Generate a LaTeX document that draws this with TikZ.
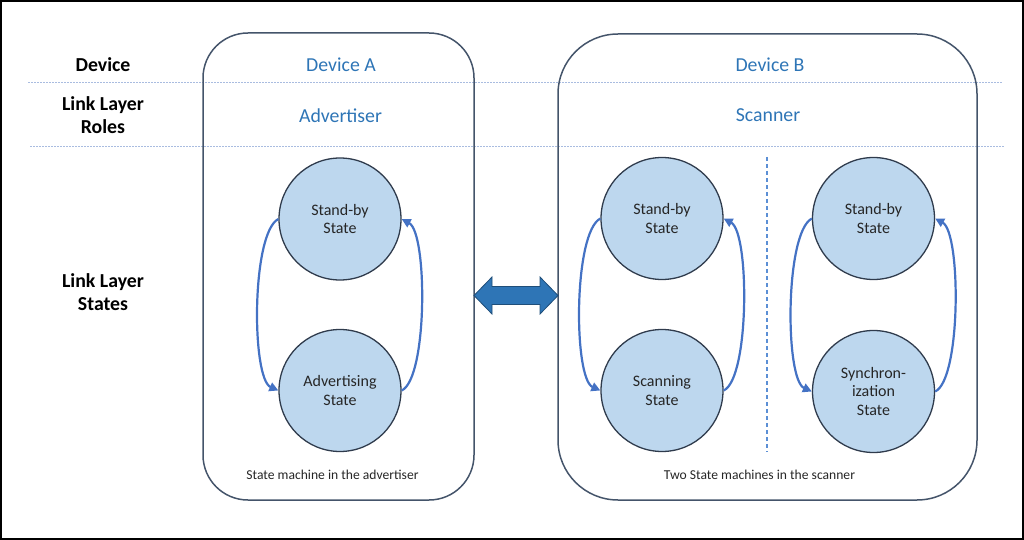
\documentclass[tikz,border=0pt]{standalone}
\usepackage{fontspec}
\setmainfont{Carlito}
\usetikzlibrary{arrows.meta}
\definecolor{boxline}{HTML}{44546A}
\definecolor{circfill}{HTML}{BDD7EE}
\definecolor{circline}{HTML}{2F3B4C}
\definecolor{arrowblue}{HTML}{4472C4}
\definecolor{dashblue}{HTML}{5B8FD5}
\definecolor{textblue}{HTML}{2E75B6}
\definecolor{dotline}{HTML}{A9BCE0}
\definecolor{bigarrow}{HTML}{2E75B6}
\definecolor{bigarrowline}{HTML}{1F4E79}
\tikzset{
  statecirc/.style={circle, draw=circline, line width=1.3pt, fill=circfill, minimum size=122pt, inner sep=0pt, align=center, font=\fontsize{16}{18.5}\selectfont, text=black!85},
  rowlabel/.style={align=center, font=\fontsize{19.8}{23}\selectfont\bfseries},
  bluelabel/.style={text=textblue, font=\fontsize{19.8}{23}\selectfont},
  caption/.style={font=\fontsize{13.6}{15}\selectfont, text=black!85},
  transition/.style={draw=arrowblue, line width=2.2pt, -{Triangle[length=9pt,width=9pt]}},
  rowsep/.style={draw=dotline, line width=0.9pt, dash pattern=on 1.5pt off 1.5pt},
  devframe/.style={draw=boxline, line width=1.5pt},
}
\begin{document}
\begin{tikzpicture}[x=1pt,y=-1pt]
\useasboundingbox (0,0) rectangle (1024,540);
\draw[black, line width=2pt] (1,1) rectangle (1023,539);
% row separators
\coordinate (r1a) at (28,82); \coordinate (r1b) at (1002,82);
\coordinate (r2a) at (30,146.5); \coordinate (r2b) at (1004,146.5);
\draw[rowsep] (r1a) -- (r1b);
\draw[rowsep] (r2a) -- (r2b);
% device boxes
\draw[devframe, rounded corners=45pt] (203,33) rectangle (474,500);
\draw[devframe, rounded corners=60pt] (558,34) rectangle (977,500);
% row labels
\node[rowlabel] (lDev) at (103,65) {Device};
\node[rowlabel] (lRoles) at (103,115.5) {Link Layer\\Roles};
\node[rowlabel] (lStates) at (103,292.5) {Link Layer\\States};
% blue labels
\node[bluelabel] (devA) at (341,65) {Device A};
\node[bluelabel] (advr) at (340.5,115.5) {Advertiser};
\node[bluelabel] (devB) at (770,65) {Device B};
\node[bluelabel] (scnr) at (768,115.5) {Scanner};
% states
\node[statecirc] (sA) at (340,219) {Stand-by\\State};
\node[statecirc] (aA) at (340,390.5) {Advertising\\State};
\node[statecirc] (sB) at (662,218.5) {Stand-by\\State};
\node[statecirc] (cB) at (662,390.5) {Scanning\\State};
\node[statecirc] (sC) at (873.5,218.5) {Stand-by\\State};
\node[statecirc] (yC) at (873.5,391.5) {Synchron-\\ization\\State};
% transitions
\foreach \s/\e in {sA/aA, sB/cB, sC/yC}{
  \draw[transition] (\s.west) .. controls +(-27,14) and +(-27,-12) .. (\e.west);
  \draw[transition] (\e.east) .. controls +(26,-12) and +(26,14) .. (\s.east);
}
% dashed separator
\coordinate (dTop) at (767,157); \coordinate (dBot) at (767,452);
\draw[draw=dashblue, line width=1.4pt, dash pattern=on 4pt off 3pt] (dTop) -- (dBot);
% captions
\node[caption] (capA) at (332.5,475) {State machine in the advertiser};
\node[caption] (capB) at (759.5,475) {Two State machines in the scanner};
% double arrow
\draw[fill=bigarrow, draw=bigarrowline, line width=0.8pt, line join=miter]
  (474,295.5) -- (492,277) -- (492,286.5) -- (540,286.5) -- (540,277) -- (558,295.5)
  -- (540,314) -- (540,304.5) -- (492,304.5) -- (492,314) -- cycle;
\end{tikzpicture}
\end{document}
